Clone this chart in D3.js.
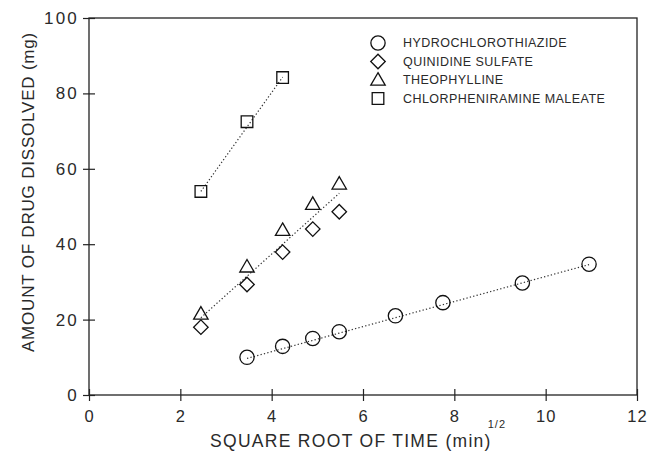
<!DOCTYPE html>
<html>
<head>
<meta charset="utf-8">
<script src="https://cdn.jsdelivr.net/npm/d3@7"></script>
<style>
    body { margin: 0; background: #fff; }
    svg text { font-family: "Liberation Sans", Arial, sans-serif; fill: #2a2a2a; }
</style>
</head>
<body>
<svg id="chart" width="648" height="460"></svg>
<script>
// sqrt(time) values
let hctzX = [3.46, 4.24, 4.90, 5.48, 6.71, 7.75, 9.49, 10.95];
let hctzY = [10.0, 12.9, 15.0, 16.8, 21.0, 24.5, 29.7, 34.7];

let quinX = [2.45, 3.46, 4.24, 4.90, 5.48];
let quinY = [18.0, 29.3, 37.9, 44.0, 48.6];

let theoX = [2.45, 3.46, 4.24, 4.90, 5.48];
let theoY = [21.5, 34.0, 43.7, 50.6, 56.0];

let chlorX = [2.45, 3.46, 4.24];
let chlorY = [54.0, 72.5, 84.2];

// dotted fit lines (end points)
let fitHctz = [[3.46, 9.7], [10.95, 34.6]];
let fitQuinTheo = [[2.45, 20.5], [5.48, 53.5]];
let fitChlor = [[2.45, 54.0], [4.24, 84.3]];

let xTicks = [0, 2, 4, 6, 8, 10, 12];
let yTicks = [0, 20, 40, 60, 80, 100];

let legendNames = ['HYDROCHLOROTHIAZIDE', 'QUINIDINE SULFATE', 'THEOPHYLLINE', 'CHLORPHENIRAMINE MALEATE'];
let legendShapes = ['circle', 'diamond', 'triangle', 'square'];

let svg = d3.select('#chart');
let margin = {top: 18, left: 89, right: 11, bottom: 65};
let width = 648 - margin.left - margin.right;
let height = 460 - margin.top - margin.bottom;

let xScale = d3.scaleLinear().domain([0, 12]).range([0, width]);
let yScale = d3.scaleLinear().domain([0, 100]).range([height, 0]);

let g = svg.append('g').attr('transform', `translate(${margin.left},${margin.top})`);

// frame
g.append('rect')
    .attr('width', width).attr('height', height)
    .attr('fill', 'none').attr('stroke', '#222').attr('stroke-width', 1.3);

let xAxis = d3.axisBottom(xScale).tickValues(xTicks).tickSizeInner(6).tickSizeOuter(0).tickPadding(6);
let yAxis = d3.axisLeft(yScale).tickValues(yTicks).tickSizeInner(6).tickSizeOuter(0).tickPadding(6);

let gx = g.append('g').attr('transform', `translate(0,${height})`).call(xAxis);
let gy = g.append('g').call(yAxis);

[gx, gy].forEach(a => {
    a.select('.domain').remove();
    a.selectAll('.tick line').attr('stroke', '#222').attr('stroke-width', 1.2);
});
// ticks cross the axis line
gx.selectAll('.tick line').attr('y1', -6).attr('y2', 6);
gy.selectAll('.tick line').attr('x1', -6).attr('x2', 6);
gx.selectAll('.tick text').attr('dy', '0.9em')
    .style('font-size', '16.5px').style('letter-spacing', '1px');
gy.selectAll('.tick text').attr('x', -10)
    .style('font-size', '17px').style('letter-spacing', '2.2px');

// fit lines
let line = d3.line().x(d => xScale(d[0])).y(d => yScale(d[1]));
[fitHctz, fitQuinTheo, fitChlor].forEach(f => {
    g.append('path')
        .attr('d', line(f))
        .attr('fill', 'none')
        .attr('stroke', '#333')
        .attr('stroke-width', 1.2)
        .attr('stroke-dasharray', '1.3,2.2');
});

let symbolMap = {
    circle: d3.symbol().type(d3.symbolCircle).size(160),
    diamond: d3.symbol().type(d3.symbolSquare).size(105),
    triangle: d3.symbol().type(d3.symbolTriangle).size(90),
    square: d3.symbol().type(d3.symbolSquare).size(135)
};

function shapeTransform(shape, x, y) {
    if (shape === 'diamond') return `translate(${x},${y}) rotate(45)`;
    if (shape === 'triangle') return `translate(${x},${y + 1})`;
    return `translate(${x},${y})`;
}

function drawSeries(xs, ys, shape) {
    let pts = xs.map((x, i) => ({x: x, y: ys[i]}));
    g.append('g').selectAll('path').data(pts).enter().append('path')
        .attr('d', symbolMap[shape]())
        .attr('transform', d => shapeTransform(shape, xScale(d.x), yScale(d.y)))
        .attr('fill', 'none')
        .attr('stroke', '#111')
        .attr('stroke-width', 1.3);
}

drawSeries(hctzX, hctzY, 'circle');
drawSeries(quinX, quinY, 'diamond');
drawSeries(theoX, theoY, 'triangle');
drawSeries(chlorX, chlorY, 'square');

// legend
let legend = g.append('g').attr('transform', `translate(${378 - margin.left},${43 - margin.top})`);
legendNames.forEach((name, i) => {
    let row = legend.append('g').attr('transform', `translate(0,${i * 18.5})`);
    row.append('path')
        .attr('d', symbolMap[legendShapes[i]]())
        .attr('transform', shapeTransform(legendShapes[i], 0, 0))
        .attr('fill', 'none').attr('stroke', '#111').attr('stroke-width', 1.3);
    row.append('text')
        .attr('x', 25).attr('y', 0).attr('dy', '0.35em')
        .style('font-size', '12.5px')
        .style('letter-spacing', '0.45px')
        .text(name);
});

// axis titles
svg.append('text')
    .attr('transform', `translate(34,192) rotate(-90)`)
    .attr('text-anchor', 'middle')
    .style('font-size', '17px')
    .style('letter-spacing', '0.8px')
    .text('AMOUNT OF DRUG DISSOLVED (mg)');

let xt = svg.append('text')
    .attr('x', 210).attr('y', 447)
    .style('font-size', '17.5px')
    .style('letter-spacing', '1.3px');
xt.append('tspan').text('SQUARE ROOT OF TIME (min)');
xt.append('tspan').attr('dy', -19).attr('dx', -4).style('font-size', '11px').style('letter-spacing', '1px').text('1/2');
</script>
</body>
</html>
